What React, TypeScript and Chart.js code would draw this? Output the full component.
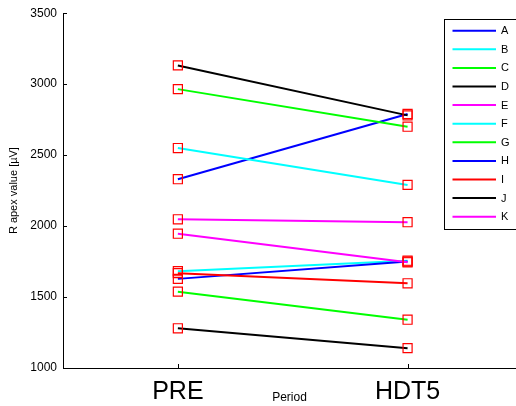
import React, { useEffect, useRef } from 'react';
import { Chart, registerables } from 'chart.js';

Chart.register(...registerables);

const categories = ['PRE', 'HDT5'];
const seriesNames = ['A', 'B', 'C', 'D', 'E', 'F', 'G', 'H', 'I', 'J', 'K'];
const seriesColors = ['#0000ff', '#00ffff', '#00ff00', '#000000', '#ff00ff', '#00ffff', '#00ff00', '#0000ff', '#ff0000', '#000000', '#ff00ff'];
const valuesA = [2330, 2790];
const valuesB = [2550, 2290];
const valuesC = [2965, 2700];
const valuesD = [3132, 2780];
const valuesE = [2048, 2027];
const valuesF = [1682, 1756];
const valuesG = [1538, 1340];
const valuesH = [1628, 1750];
const valuesI = [1668, 1597];
const valuesJ = [1280, 1140];
const valuesK = [1946, 1745];
const yTicks = [1000, 1500, 2000, 2500, 3000, 3500];
const yTitle = 'R apex value [µV]';
const xTitle = 'Period';

const allValues = [valuesA, valuesB, valuesC, valuesD, valuesE, valuesF, valuesG, valuesH, valuesI, valuesJ, valuesK];

const FONT = "'Liberation Sans', Arial, sans-serif";

export default function App() {
  const ref = useRef<HTMLCanvasElement | null>(null);

  useEffect(() => {
    document.body.style.margin = '0';
    const canvas = ref.current;
    if (!canvas) return;

    const datasets = allValues.map((vals, i) => ({
      label: seriesNames[i],
      data: vals.map((v, j) => ({ x: j + 1, y: v })),
      borderColor: seriesColors[i],
      backgroundColor: seriesColors[i],
      borderWidth: 2,
      tension: 0,
      pointStyle: 'rect' as const,
      pointRadius: 6.4,
      pointBorderColor: '#ff0000',
      pointBackgroundColor: 'rgba(0,0,0,0)',
      pointBorderWidth: 1.2,
      order: allValues.length - i,
    }));

    const overlay = {
      id: 'overlay',
      afterDraw(chart: any) {
        const ctx = chart.ctx;
        const xs = chart.scales.x;
        const ys = chart.scales.y;
        const area = chart.chartArea;
        ctx.save();
        ctx.strokeStyle = '#000';
        ctx.lineWidth = 1;
        // inward ticks
        yTicks.forEach((v) => {
          const y = Math.round(ys.getPixelForValue(v)) + 0.5;
          ctx.beginPath();
          ctx.moveTo(area.left, y);
          ctx.lineTo(area.left + 4, y);
          ctx.stroke();
        });
        categories.forEach((_, j) => {
          const x = Math.round(xs.getPixelForValue(j + 1)) + 0.5;
          ctx.beginPath();
          ctx.moveTo(x, area.bottom);
          ctx.lineTo(x, area.bottom - 4);
          ctx.stroke();
        });
        // legend
        const lx = 444.5;
        const ly = 19.5;
        ctx.fillStyle = '#fff';
        ctx.fillRect(lx, ly, 100, 210);
        ctx.strokeRect(lx, ly, 100, 210);
        ctx.font = `11px ${FONT}`;
        ctx.textBaseline = 'middle';
        ctx.textAlign = 'left';
        seriesNames.forEach((name, i) => {
          const y = 30.7 + i * 18.6;
          ctx.strokeStyle = seriesColors[i];
          ctx.lineWidth = 2;
          ctx.beginPath();
          ctx.moveTo(452.5, y);
          ctx.lineTo(496, y);
          ctx.stroke();
          ctx.fillStyle = '#000';
          ctx.fillText(name, 501, y + 0.5);
        });
        ctx.restore();
      },
    };

    const chart = new Chart(canvas, {
      type: 'line',
      data: { datasets },
      options: {
        animation: false,
        responsive: false,
        devicePixelRatio: 1,
        layout: { autoPadding: false, padding: { top: 12, left: 0, right: 0, bottom: 0 } },
        plugins: { legend: { display: false }, tooltip: { enabled: false } },
        scales: {
          x: {
            type: 'linear',
            position: 'bottom',
            min: 0.5,
            max: 2.472,
            afterBuildTicks: (s: any) => {
              s.ticks = categories.map((_, j) => ({ value: j + 1 }));
            },
            afterFit: (s: any) => {
              s.height = 38;
            },
            ticks: {
              autoSkip: false,
              maxRotation: 0,
              callback: (v: any) => categories[Number(v) - 1] ?? '',
              font: { family: FONT, size: 25 },
              color: '#000',
              padding: 9,
            },
            grid: { display: false, drawTicks: false },
            border: { display: true, color: '#000', width: 1 },
            title: {
              display: true,
              text: xTitle,
              font: { family: FONT, size: 12 },
              color: '#000',
              padding: { top: 0, bottom: 1 },
            },
          },
          y: {
            type: 'linear',
            min: 1000,
            max: 3500,
            afterBuildTicks: (s: any) => {
              s.ticks = yTicks.map((v) => ({ value: v }));
            },
            afterFit: (s: any) => {
              s.width = 63;
            },
            ticks: {
              callback: (v: any) => String(v),
              font: { family: FONT, size: 12 },
              color: '#000',
              padding: 6,
            },
            grid: { display: false, drawTicks: false },
            border: { display: true, color: '#000', width: 1 },
            title: {
              display: true,
              text: yTitle,
              font: { family: FONT, size: 11 },
              color: '#000',
              padding: { top: 7, bottom: 0 },
            },
          },
        },
      },
      plugins: [overlay],
    } as any);

    return () => chart.destroy();
  }, []);

  return (
    <div style={{ width: 516, height: 406 }}>
      <canvas ref={ref} width={516} height={406} style={{ display: 'block' }} />
    </div>
  );
}
